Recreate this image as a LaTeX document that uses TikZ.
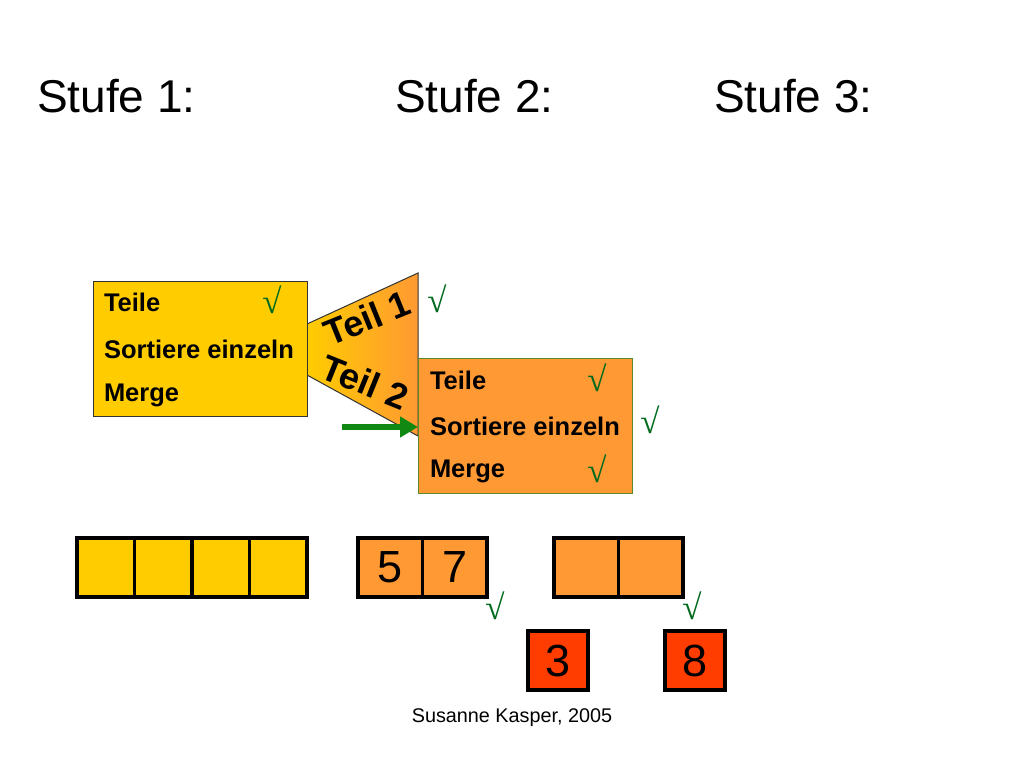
\documentclass[tikz,border=0pt]{standalone}
\usepackage{fontspec}
\usetikzlibrary{arrows.meta}
\setmainfont{Liberation Sans}
\newfontfamily\chk{Liberation Serif}
\begin{document}
\begin{tikzpicture}[x=1pt,y=-1pt,
  every node/.style={inner sep=0pt,outer sep=0pt},
  title/.style={font=\fontsize{46}{52}\selectfont,anchor=base west},
  menubox/.style={draw=#1,line width=1pt,anchor=north west,minimum width=214,minimum height=135},
  item/.style={font=\fontsize{25.5}{30}\selectfont\bfseries,anchor=west},
  tick/.style={font=\fontsize{35}{40}\chk,text=checkgreen},
  cell/.style={draw=black,line width=3.4pt,minimum width=57.5,minimum height=59,anchor=north west,font=\fontsize{45}{50}\selectfont},
  ocell/.style={cell,fill=orange1,minimum width=64.5},
  rcell/.style={cell,fill=red1,minimum width=60,minimum height=59},
  teil/.style={font=\fontsize{36}{40}\selectfont\bfseries}
]
\definecolor{yellow1}{HTML}{FFCC00}
\definecolor{orange1}{HTML}{FF9933}
\definecolor{red1}{HTML}{FF3D00}
\definecolor{checkgreen}{HTML}{006B1E}
\definecolor{arrowgreen}{HTML}{118811}
\definecolor{boxedge}{HTML}{5A8A2A}
\useasboundingbox[fill=white] (0,0) rectangle (1024,768);

% titles
\node[title] (s1) at (37,112) {Stufe 1:};
\node[title] (s2) at (395,112) {Stufe 2:};
\node[title] (s3) at (714,112) {Stufe 3:};

% funnel
\coordinate (f1) at (307,324);
\coordinate (f2) at (418,273);
\coordinate (f3) at (418,436);
\coordinate (f4) at (307,375);
\shade[left color=yellow1,right color=orange1] (f1) -- (f2) -- (f3) -- (f4) -- cycle;
\draw[line width=1pt,black!80] (f1) -- (f2) -- (f3) -- (f4);
\node[teil,rotate=22] (t1) at (367,318) {Teil 1};
\node[teil,rotate=-22] (t2) at (365,382) {Teil 2};

% yellow box
\node[menubox=black!80,fill=yellow1] (b1) at (93,281) {};
\node[item] (b1a) at (104,302) {Teile};
\node[item] (b1b) at (104,349) {Sortiere einzeln};
\node[item] (b1c) at (104,395) {Merge};
\node[tick] (c1) at (272,300) {√};
\node[tick] (c2) at (437,299) {√};

% orange box
\node[menubox=boxedge,fill=orange1] (b2) at (418,358) {};
\node[item] (b2a) at (430,380) {Teile};
\node[item] (b2b) at (430,426) {Sortiere einzeln};
\node[item] (b2c) at (430,471) {Merge};
\node[tick] (c3) at (597,378) {√};
\node[tick] (c4) at (597,469) {√};
\node[tick] (c5) at (650,420) {√};

% arrow
\coordinate (a0) at (342,427);
\draw[arrowgreen,line width=5.5pt,-{Triangle[length=18pt,width=20pt]}] (a0) -- (b2.west |- a0);

% yellow array
\node[cell,fill=yellow1] (y1) at (77,538) {};
\node[cell,fill=yellow1] (y2) at (134.5,538) {};
\node[cell,fill=yellow1] (y3) at (192,538) {};
\node[cell,fill=yellow1] (y4) at (249.5,538) {};

% orange arrays
\node[ocell] (o1) at (358,538) {5};
\node[ocell] (o2) at (422.5,538) {7};
\node[ocell] (o3) at (554,538) {};
\node[ocell] (o4) at (618.5,538) {};
\node[tick] (c6) at (495,606) {√};
\node[tick] (c7) at (692,606) {√};

% red cells
\node[rcell] (r1) at (528,631) {3};
\node[rcell] (r2) at (665,631) {8};

% footer
\node[font=\fontsize{19.8}{24}\selectfont] (ft) at (512,718) {Susanne Kasper, 2005};
\end{tikzpicture}
\end{document}
